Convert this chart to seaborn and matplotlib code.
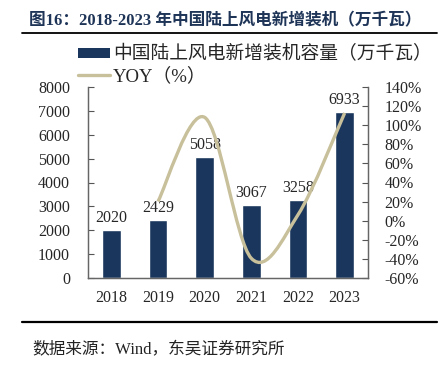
import numpy as np
import pandas as pd
import matplotlib
matplotlib.use("Agg")
import matplotlib.pyplot as plt
import seaborn as sns
from matplotlib.path import Path
from matplotlib.patches import PathPatch, Patch
from matplotlib.lines import Line2D

# data
years = ["2018", "2019", "2020", "2021", "2022", "2023"]
capacity = [2020, 2429, 5058, 3067, 3258, 6933]
yoy_years = ["2019", "2020", "2021", "2022", "2023"]
yoy = [20.2, 108.2, -39.4, 6.2, 112.8]

BAR_COLOR = "#1b365d"
LINE_COLOR = "#c8c09b"
TITLE_COLOR = "#1f3558"
SERIF_CJK = ["Liberation Serif", "Noto Sans CJK SC"]

sns.set_theme(style="white")
plt.rcParams["font.family"] = SERIF_CJK
plt.rcParams["axes.unicode_minus"] = False

fig = plt.figure(figsize=(4.48, 3.66), dpi=100)
ax = fig.add_axes([88 / 448, 1 - 278 / 366, 280 / 448, 191 / 366])

df = pd.DataFrame({"year": years, "capacity": capacity})
sns.barplot(data=df, x="year", y="capacity", color=BAR_COLOR, width=0.4,
            saturation=1, ax=ax)
ax.bar_label(ax.containers[0], labels=[str(v) for v in capacity], padding=3,
             fontsize=11.5, family="Liberation Serif")

ax.set_xlim(-0.5, 5.5)
ax.set_ylim(0, 8000)
ax.set_yticks(np.arange(0, 8001, 1000))
ax.set_xlabel("")
ax.set_ylabel("")
ax.tick_params(axis="y", direction="in", length=4, width=0.8, color="#555555",
               pad=13, labelsize=11.5)
ax.tick_params(axis="x", length=0, pad=9, labelsize=11.5)
for lab in ax.get_xticklabels() + ax.get_yticklabels():
    lab.set_family("Liberation Serif")

ax2 = ax.twinx()
ax2.set_ylim(-60, 140)
ax2.set_yticks(np.arange(-60, 141, 20))
ax2.set_yticklabels([f"{v}%" for v in range(-60, 141, 20)])
ax2.tick_params(axis="y", direction="in", length=4, width=0.8, color="#555555",
                pad=12, labelsize=11.5)
for lab in ax2.get_yticklabels():
    lab.set_family("Liberation Serif")

for a in (ax, ax2):
    a.spines["top"].set_visible(False)
    for s in ("left", "right", "bottom"):
        a.spines[s].set_color("#666666")
        a.spines[s].set_linewidth(0.9)

# smoothed YOY line (Excel-style cubic bezier through the data points)
xs = [years.index(y) for y in yoy_years]
pts = np.column_stack([xs, yoy]).astype(float)
verts = [tuple(pts[0])]
codes = [Path.MOVETO]
n = len(pts)
for i in range(n - 1):
    p_prev = pts[max(i - 1, 0)]
    p0, p1 = pts[i], pts[i + 1]
    p_next = pts[min(i + 2, n - 1)]
    c1 = p0 + (p1 - p_prev) / 6
    c2 = p1 - (p_next - p0) / 6
    verts += [tuple(c1), tuple(c2), tuple(p1)]
    codes += [Path.CURVE4] * 3
ax2.add_patch(PathPatch(Path(verts, codes), facecolor="none",
                        edgecolor=LINE_COLOR, lw=2.4, capstyle="butt"))

# legend above the plot
handles = [Patch(facecolor=BAR_COLOR, edgecolor="none"),
           Line2D([], [], color=LINE_COLOR, lw=2.4)]
labels = ["中国陆上风电新增装机容量（万千瓦）", "YOY（%）"]
fig.legend(handles, labels, loc="upper left",
           bbox_to_anchor=(70 / 448, 1 - 38 / 366), frameon=False,
           fontsize=13.5, handlelength=1.75, handleheight=0.4,
           handletextpad=0.15, labelspacing=0.2, borderaxespad=0)

# title and rules
fig.text(225 / 448, 1 - 21 / 366, "图16：2018-2023 年中国陆上风电新增装机（万千瓦）",
         ha="center", va="center", fontsize=12, fontweight="bold",
         color=TITLE_COLOR, family=SERIF_CJK)
fig.add_artist(Line2D([22 / 448, 437 / 448], [1 - 33 / 366] * 2,
                      color="black", lw=1.3))
fig.add_artist(Line2D([22 / 448, 437 / 448], [1 - 322 / 366] * 2,
                      color="black", lw=1.6))
fig.text(32 / 448, 1 - 350 / 366, "数据来源：Wind，东吴证券研究所",
         ha="left", va="center", fontsize=12, color="#222222",
         family=SERIF_CJK)

fig.savefig("out.png", dpi=100)
